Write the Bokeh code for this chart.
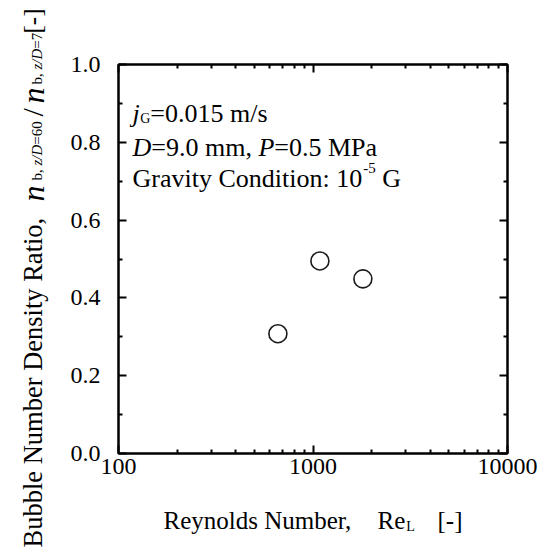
import math
from bokeh.plotting import figure
from bokeh.layouts import row, column
from bokeh.models import (Range1d, LogAxis, LinearAxis, FixedTicker, Label,
                          NumeralTickFormatter)
from bokeh.embed import file_html
from bokeh.resources import INLINE

# ---------------- data ----------------
reynolds = [660, 1085, 1805]
density_ratio = [0.308, 0.495, 0.449]

x_major_ticks = [100, 1000, 10000]
x_minor_ticks = [200, 300, 400, 500, 600, 700, 800, 900,
                 2000, 3000, 4000, 5000, 6000, 7000, 8000, 9000]
y_major_ticks = [0.0, 0.2, 0.4, 0.6, 0.8, 1.0]
y_minor_ticks = [0.1, 0.3, 0.5, 0.7, 0.9]

# ---------------- geometry (page pixels) ----------------
W, H = 545, 550
LW = 60            # width of the strip holding the y-axis title
BH = 55            # height of the strip holding the x-axis title
FL, FT, FW, FH = 118, 64, 389, 389
FR, FB = FL + FW, FT + FH
X0, X1 = 100, 10000
Y0, Y1 = 0.0, 1.0

FONT = "Liberation Serif"

def px_x(sx):
    return 10 ** (math.log10(X0) + (sx - FL) / FW * (math.log10(X1) - math.log10(X0)))

def px_y(sy):
    return Y0 + (FB - sy) / FH * (Y1 - Y0)

# Times metrics (1/1000 em)
W_REG = {' ': 250, ',': 250, '-': 333, '.': 250, '/': 278, ':': 278, '=': 564,
         '[': 333, ']': 333, 'A': 722, 'B': 667, 'C': 667, 'D': 722, 'G': 722,
         'L': 611, 'M': 889, 'N': 722, 'P': 556, 'R': 667, 'a': 444, 'b': 500,
         'd': 500, 'e': 444, 'i': 278, 'l': 278, 'm': 778, 'n': 500, 'o': 500,
         'r': 333, 's': 389, 't': 278, 'u': 500, 'v': 500, 'y': 500, 'z': 444}
for d in "0123456789":
    W_REG[d] = 500
W_IT = {'j': 278, 'n': 500, 'D': 722, 'P': 611, 'z': 389, '/': 278, 'G': 722}

def tw(s, size, italic=False):
    tab = W_IT if italic else W_REG
    return sum(tab.get(c, W_REG.get(c, 500)) for c in s) * size / 1000.0

# ---------------- main chart ----------------
MW, MH = W - LW, H - BH
p = figure(width=MW, height=MH, frame_width=FW, frame_height=FH,
           x_axis_type="log", x_range=Range1d(X0, X1), y_range=Range1d(Y0, Y1),
           output_backend="svg", toolbar_location=None,
           min_border_left=FL - LW, min_border_right=W - FR,
           min_border_top=FT, min_border_bottom=MH - FB,
           background_fill_color="white", border_fill_color="white")
p.xgrid.visible = False
p.ygrid.visible = False
p.outline_line_color = "black"
p.outline_line_width = 2

xt = FixedTicker(ticks=x_major_ticks, minor_ticks=x_minor_ticks)
yt = FixedTicker(ticks=y_major_ticks, minor_ticks=y_minor_ticks)

def style(ax, show_labels):
    ax.axis_line_width = 2
    ax.axis_line_color = "black"
    ax.major_tick_in = 8
    ax.major_tick_out = 0
    ax.minor_tick_in = 4
    ax.minor_tick_out = 0
    ax.major_tick_line_width = 2
    ax.minor_tick_line_width = 2
    ax.major_tick_line_color = "black"
    ax.minor_tick_line_color = "black"
    ax.major_label_text_font = FONT
    ax.major_label_text_font_size = "24px"
    ax.major_label_text_color = "black" if show_labels else None

bx = p.xaxis[0]
bx.ticker = xt
bx.formatter = NumeralTickFormatter(format="0")
style(bx, True)
bx.major_label_standoff = 5

ly = p.yaxis[0]
ly.ticker = yt
ly.formatter = NumeralTickFormatter(format="0.0")
style(ly, True)
ly.major_label_standoff = 18

tx = LogAxis(ticker=xt, formatter=NumeralTickFormatter(format="0"))
style(tx, False)
p.add_layout(tx, "above")
ry = LinearAxis(ticker=yt, formatter=NumeralTickFormatter(format="0.0"))
style(ry, False)
p.add_layout(ry, "right")

p.scatter(reynolds, density_ratio, marker="circle", size=18,
          fill_color="white", line_color="#1a1a1a", line_width=1.6)

def mk(fig, conv_x, conv_y):
    def lab(sx, sy, text, size, italic=False, angle=0.0):
        fig.add_layout(Label(x=conv_x(sx), y=conv_y(sy), x_units="data", y_units="data",
                             text=text, text_font=FONT, text_font_size=f"{size}px",
                             text_font_style="italic" if italic else "normal",
                             text_color="black", text_align="left",
                             text_baseline="alphabetic", angle=angle))
    return lab

lab = mk(p, px_x, px_y)

# ---- annotation block ----
S = 26
SUB = 14
x = 132
lab(x, 113, "j", S, True); x += tw("j", S, True) + 0.5
lab(x, 118, "G", SUB); x += tw("G", SUB)
lab(x, 113, "=0.015 m/s", S)

x = 132
lab(x, 147, "D", S, True); x += tw("D", S, True)
lab(x, 147, "=9.0 mm,", S); x += tw("=9.0 mm, ", S)
lab(x, 147, "P", S, True); x += tw("P", S, True)
lab(x, 147, "=0.5 MPa", S)

x = 132
t = "Gravity Condition: 10"
lab(x, 178, t, S); x += tw(t, S) + 1
lab(x, 167, "-5", 15); x += tw("-5", 15) + tw(" ", S)
lab(x, 178, "G", S)

# ---------------- strips for axis titles (page-pixel data coordinates) ----------------
def blank(f):
    f.xgrid.visible = False
    f.ygrid.visible = False
    return f

# left strip: whole page height, its frame is the whole strip
yfig = blank(figure(width=LW, height=H, x_range=Range1d(0, LW), y_range=Range1d(H, 0),
                    output_backend="svg", toolbar_location=None,
                    x_axis_location=None, y_axis_location=None,
                    min_border=0, outline_line_color=None,
                    background_fill_color="white", border_fill_color="white"))

# bottom strip: frame lined up with the chart frame (layout aligns frames)
xfig = blank(figure(width=MW, height=BH, frame_width=FW, frame_height=BH,
                    x_range=Range1d(FL, FR), y_range=Range1d(H, MH),
                    output_backend="svg", toolbar_location=None,
                    x_axis_location=None, y_axis_location=None,
                    min_border_left=FL - LW, min_border_right=W - FR,
                    min_border_top=0, min_border_bottom=0,
                    outline_line_color=None,
                    background_fill_color="white", border_fill_color="white"))

ident = lambda v: v

# ---- x axis title ----
xl = mk(xfig, ident, ident)
xl(163, 520, "Reynolds Number,", 25)
xl(377, 520, "Re", 25)
xl(377 + tw("Re", 25) + 1, 526, "L", 14)
xl(437, 520, "[-]", 25)

# ---- y axis title (rotated) ----
yl = mk(yfig, ident, ident)
A = math.pi / 2
BX = 32
SX = BX + 4
yl(BX, 547, "Bubble Number Density Ratio,", 26.5, angle=A)
yl(BX, 201, "n", 32, True, A)
y = 180
yl(SX, y, "b,", 15, angle=A); y -= tw("b, ", 15)
yl(SX, y, "z/D", 15, True, A); y -= tw("z/D", 15, True)
yl(SX, y, "=60", 15, angle=A)
yl(BX, 116, "/", 30, angle=A)
yl(BX, 103, "n", 32, True, A)
y = 84
yl(SX, y, "b,", 15, angle=A); y -= tw("b, ", 15)
yl(SX, y, "z/D", 15, True, A); y -= tw("z/D", 15, True)
yl(SX, y, "=7", 15, angle=A)
yl(BX, 33, "[-]", 25, angle=A)

layout = row(yfig, column(p, xfig))
open("out.html", "w").write(file_html(layout, INLINE))
